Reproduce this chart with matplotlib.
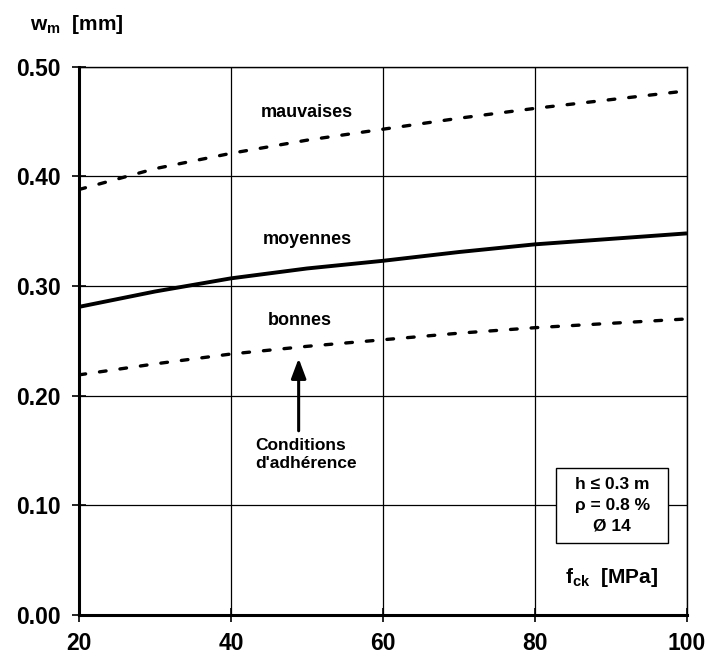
import matplotlib
matplotlib.use("Agg")
import matplotlib.pyplot as plt
from matplotlib.patches import Rectangle

plt.rcParams['font.family'] = ['Liberation Sans', 'DejaVu Sans']
plt.rcParams['mathtext.fontset'] = 'custom'
plt.rcParams['mathtext.rm'] = 'Liberation Sans:bold'

fck = [20, 30, 40, 50, 60, 70, 80, 90, 100]
w_mauvaises = [0.388, 0.407, 0.421, 0.433, 0.443, 0.453, 0.462, 0.470, 0.478]
w_moyennes = [0.281, 0.295, 0.307, 0.316, 0.323, 0.331, 0.338, 0.343, 0.348]
w_bonnes = [0.219, 0.229, 0.238, 0.245, 0.251, 0.257, 0.262, 0.266, 0.270]

xticks = [20, 40, 60, 80, 100]
yticks = [0.00, 0.10, 0.20, 0.30, 0.40, 0.50]
ytick_labels = ["0.00", "0.10", "0.20", "0.30", "0.40", "0.50"]

fig = plt.figure(figsize=(7.1, 6.57), dpi=100)
ax = fig.add_axes([0.1113, 0.0639, 0.8563, 0.8346])

ax.set_xlim(20, 100)
ax.set_ylim(0, 0.5)
ax.set_xticks(xticks)
ax.set_yticks(yticks)
ax.set_yticklabels(ytick_labels)
ax.tick_params(axis='both', direction='inout', length=10, width=1.2,
               labelsize=16.5, color='black')
ax.tick_params(axis='x', pad=7)
ax.tick_params(axis='y', pad=8)
for lab in ax.get_xticklabels() + ax.get_yticklabels():
    lab.set_fontweight('bold')
ax.grid(True, color='black', linewidth=0.9)
ax.set_axisbelow(True)

for side in ['left', 'bottom']:
    ax.spines[side].set_linewidth(2.2)
for side in ['top', 'right']:
    ax.spines[side].set_linewidth(1.0)

ax.plot(fck, w_mauvaises, color='black', lw=2.4, dashes=(2, 4.2), dash_capstyle='round')
ax.plot(fck, w_moyennes, color='black', lw=2.8, solid_capstyle='butt')
ax.plot(fck, w_bonnes, color='black', lw=2.4, dashes=(2, 4.2), dash_capstyle='round')

ax.text(50, 0.458, "mauvaises", ha='center', va='center', fontsize=13, fontweight='bold')
ax.text(50, 0.342, "moyennes", ha='center', va='center', fontsize=13, fontweight='bold')
ax.text(49, 0.269, "bonnes", ha='center', va='center', fontsize=13, fontweight='bold')

ax.annotate("", xy=(48.9, 0.234), xytext=(48.9, 0.168),
            arrowprops=dict(arrowstyle='-|>,head_length=1.2,head_width=0.45',
                            color='black', lw=2.2, shrinkA=0, shrinkB=0))
ax.text(43.2, 0.146, "Conditions\nd'adhérence", ha='left', va='center',
        fontsize=12.5, fontweight='bold', linespacing=1.25)

ax.text(90.1, 0.034, r"f$_{\mathregular{ck}}$  [MPa]", ha='center', va='center',
        fontsize=15, fontweight='bold')

ax.add_patch(Rectangle((82.8, 0.066), 14.7, 0.068, facecolor='white',
                       edgecolor='black', lw=1.0, zorder=3))
ax.text(90.15, 0.100, "h ≤ 0.3 m\nρ = 0.8 %\nØ 14", ha='center', va='center',
        fontsize=12.5, fontweight='bold', linespacing=1.45, zorder=4)

fig.text(0.042, 0.962, r"w$_{\mathregular{m}}$  [mm]", ha='left', va='center',
         fontsize=15, fontweight='bold')

fig.savefig("out.png", dpi=100)
